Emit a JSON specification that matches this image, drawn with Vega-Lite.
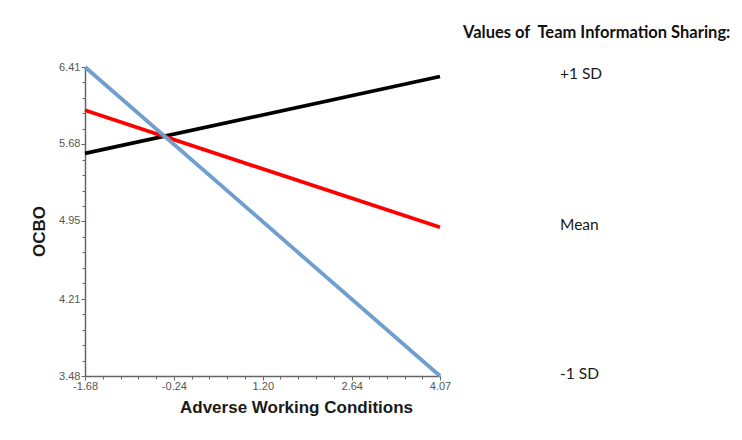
{
  "$schema": "https://vega.github.io/schema/vega-lite/v6.json",
  "autosize": {"type": "none"},
  "width": 355,
  "height": 309,
  "padding": {"left": 85, "top": 67, "right": 302, "bottom": 64},
  "background": "white",
  "config": {"view": {"stroke": null}, "font": "Liberation Sans"},
  "title": {
    "text": "Values of\u00a0 Team Information Sharing:",
    "anchor": "start",
    "frame": "group",
    "dx": 378,
    "offset": 18,
    "font": "Lato",
    "fontSize": 16.5,
    "fontWeight": "bold",
    "color": "#111111"
  },
  "data": {
    "values": [
      {"group": "+1 SD", "x": -1.68, "y": 5.59},
      {"group": "+1 SD", "x": 4.07, "y": 6.32},
      {"group": "Mean", "x": -1.68, "y": 6.0},
      {"group": "Mean", "x": 4.07, "y": 4.89},
      {"group": "-1 SD", "x": -1.68, "y": 6.41},
      {"group": "-1 SD", "x": 4.07, "y": 3.48}
    ]
  },
  "layer": [
    {
      "mark": {"type": "line", "strokeWidth": 3.8, "clip": false},
      "encoding": {
        "x": {
          "field": "x", "type": "quantitative",
          "scale": {"domain": [-1.68, 4.07], "nice": false, "zero": false},
          "axis": {
            "orient": "bottom",
            "values": [-1.68, -0.24, 1.2, 2.64, 4.07],
            "format": ".2f",
            "labelExpr": "replace(datum.label, '−', '-')",
            "title": "Adverse Working Conditions",
            "titleFont": "Liberation Sans",
            "titleFontSize": 17,
            "titleFontWeight": "bold",
            "titleColor": "#1a1a1a",
            "titlePadding": 8,
            "titleX": 211,
            "labelFont": "Liberation Sans",
            "labelFontSize": 11,
            "labelColor": "#555555",
            "labelPadding": 0,
            "labelFlush": false,
            "domainColor": "#666666",
            "domainWidth": 1.5,
            "tickColor": "#666666",
            "tickSize": 4,
            "grid": false
          }
        },
        "y": {
          "field": "y", "type": "quantitative",
          "scale": {"domain": [3.48, 6.41], "nice": false, "zero": false},
          "axis": {
            "orient": "left",
            "values": [3.48, 4.21, 4.95, 5.68, 6.41],
            "format": ".2f",
            "title": "OCBO",
            "titleFont": "Liberation Sans",
            "titleFontSize": 17,
            "titleFontWeight": "bold",
            "titleColor": "#1a1a1a",
            "titlePadding": 10,
            "titleY": 164,
            "labelFont": "Liberation Sans",
            "labelFontSize": 11,
            "labelColor": "#555555",
            "labelPadding": 1,
            "labelFlush": false,
            "domainColor": "#666666",
            "domainWidth": 1.5,
            "tickColor": "#666666",
            "tickSize": 4,
            "grid": false
          }
        },
        "color": {
          "field": "group", "type": "nominal",
          "scale": {"domain": ["+1 SD", "Mean", "-1 SD"], "range": ["#000000", "#ff0000", "#6f9fcf"]},
          "legend": null
        }
      }
    },
    {
      "mark": {"type": "point", "opacity": 0},
      "encoding": {
        "x": {
          "field": "x", "type": "quantitative",
          "axis": {
            "orient": "bottom",
            "values": [-1.3925, -1.105, -0.8175, -0.53, 0.0475, 0.335, 0.6225, 0.91, 1.485, 1.7725, 2.06, 2.3475, 2.9225, 3.21, 3.4975, 3.785],
            "labels": false, "domain": false, "grid": false, "title": null,
            "tickColor": "#666666", "tickSize": 3
          }
        },
        "y": {
          "field": "y", "type": "quantitative",
          "axis": {
            "orient": "left",
            "values": [3.6265, 3.773, 3.9195, 4.066, 4.3590, 4.5055, 4.652, 4.7985, 5.0915, 5.238, 5.3845, 5.531, 5.824, 5.9705, 6.117, 6.2635],
            "labels": false, "domain": false, "grid": false, "title": null,
            "tickColor": "#666666", "tickSize": 3
          }
        }
      }
    },
    {
      "transform": [{"filter": "datum.x > 4"}],
      "mark": {"type": "text", "align": "left", "baseline": "middle", "dx": 120, "dy": -2, "font": "Lato", "fontSize": 15.5, "color": "#1a1a1a"},
      "encoding": {
        "x": {"field": "x", "type": "quantitative", "axis": null},
        "y": {"field": "y", "type": "quantitative", "axis": null},
        "text": {"field": "group"}
      }
    }
  ],
  "resolve": {"axis": {"x": "independent", "y": "independent"}}
}
